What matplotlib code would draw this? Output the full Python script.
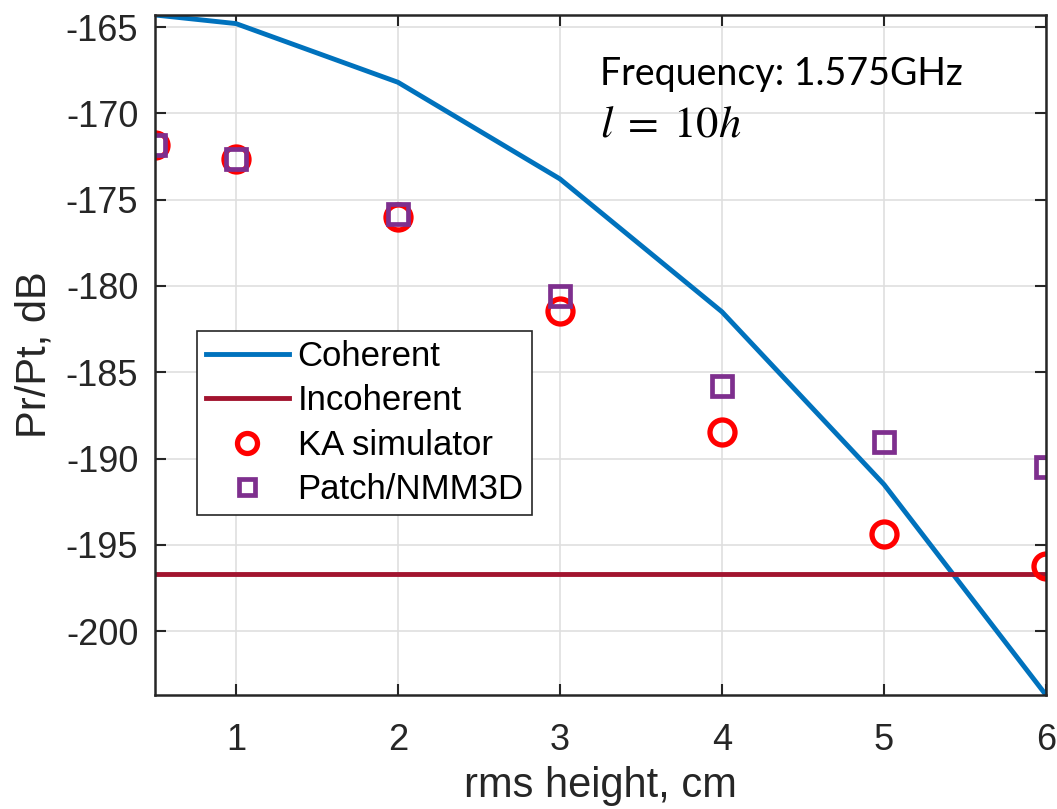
import matplotlib.pyplot as plt
import numpy as np

plt.rcParams['font.family'] = ['Liberation Sans', 'DejaVu Sans']
plt.rcParams['mathtext.fontset'] = 'stix'
plt.rcParams['axes.unicode_minus'] = False

# rms height, cm
rms_height = [0.5, 1, 2, 3, 4, 5, 6]

# received power ratio, dB
coherent = [-164.3, -164.8, -168.2, -173.8, -181.5, -191.5, -203.7]
incoherent = [-196.7] * len(rms_height)
ka_sim = [-171.85, -172.65, -176.0, -181.45, -188.45, -194.35, -196.2]
patch_nmm3d = [-171.85, -172.65, -175.85, -180.6, -185.8, -189.05, -190.5]

x_ticks = [1, 2, 3, 4, 5, 6]
y_ticks = [-200, -195, -190, -185, -180, -175, -170, -165]

fig = plt.figure(figsize=(10.57, 8.09), dpi=100)
ax = fig.add_axes([0.1466, 0.1409, 0.8430, 0.8406])

ax.plot(rms_height, coherent, color='#0072BD', lw=3.5, label='Coherent')
ax.plot(rms_height, incoherent, color='#A2142F', lw=3.5, label='Incoherent')
ax.plot(rms_height, ka_sim, 'o', ms=18, mfc='none', mec='#FF0000', mew=3.8,
        label='KA simulator')
ax.plot(rms_height, patch_nmm3d, 's', ms=14, mfc='none', mec='#7E2F8E', mew=3.4,
        label='Patch/NMM3D')

ax.set_xlim(0.5, 6)
ax.set_ylim(-203.7, -164.3)
ax.set_xticks(x_ticks)
ax.set_yticks(y_ticks)

# MATLAB-like box and ticks
ax.tick_params(direction='in', length=8, width=1.5, top=True, right=True,
               labelsize=26, colors='#262626', pad=12)
ax.tick_params(axis='x', pad=20)
for s in ax.spines.values():
    s.set_linewidth(1.8)
    s.set_color('#262626')
ax.grid(True, color='#DFDFDF', lw=1.2)
ax.set_axisbelow(True)

ax.set_xlabel('rms height, cm', fontsize=30, color='#262626', labelpad=6)
ax.set_ylabel('Pr/Pt, dB', fontsize=30, color='#262626', labelpad=8)

ax.text(0.5, 0.897, 'Frequency: 1.575GHz', transform=ax.transAxes,
        fontsize=27, family=['Lato', 'DejaVu Sans'], color='black')
ax.text(0.5, 0.822, r'$l\;=\;10h$', transform=ax.transAxes,
        fontsize=32, color='black')

leg = ax.legend(loc='lower left', bbox_to_anchor=(0.047, 0.265), fontsize=25,
                fancybox=False, framealpha=1, edgecolor='#262626',
                handlelength=2.4, borderpad=0.25, labelspacing=0.33,
                handletextpad=0.25, borderaxespad=0, markerscale=0.8)
leg.get_frame().set_linewidth(1.2)

fig.savefig('out.png', dpi=100)
